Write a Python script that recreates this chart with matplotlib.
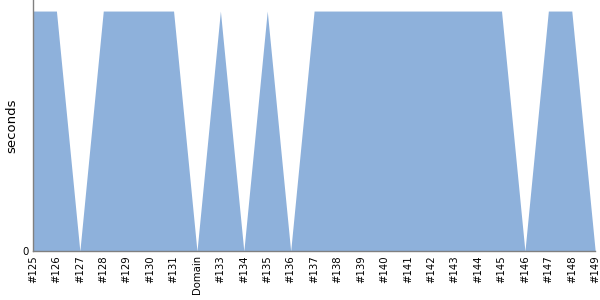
import matplotlib
matplotlib.use('Agg')
import matplotlib.pyplot as plt

builds = ['#125', '#126', '#127', '#128', '#129', '#130', '#131', 'Domain',
          '#133', '#134', '#135', '#136', '#137', '#138', '#139', '#140',
          '#141', '#142', '#143', '#144', '#145', '#146', '#147', '#148', '#149']
seconds = [1, 1, 0, 1, 1, 1, 1, 0,
           1, 0, 1, 0, 1, 1, 1, 1,
           1, 1, 1, 1, 1, 0, 1, 1, 0]

fig = plt.figure(figsize=(6, 3), dpi=100)
ax = fig.add_axes([0.055, 0.163, 0.937, 0.837])

x = list(range(len(builds)))
ax.fill_between(x, seconds, 0, color='#8eb1db', linewidth=0)

ax.set_xlim(0, len(builds) - 1)
ax.set_ylim(0, 1.046)
ax.set_xticks(x)
ax.set_xticklabels(builds, rotation=90, fontsize=7.3)
ax.set_yticks([0])
ax.set_yticklabels(['0'], fontsize=7.3)
ax.tick_params(length=0, pad=3)
ax.set_ylabel('seconds', fontsize=9.5, labelpad=3)

for s in ['top', 'right']:
    ax.spines[s].set_visible(False)
for s in ['left', 'bottom']:
    ax.spines[s].set_color('#808080')
    ax.spines[s].set_linewidth(1)

fig.savefig('out.png', dpi=100)
